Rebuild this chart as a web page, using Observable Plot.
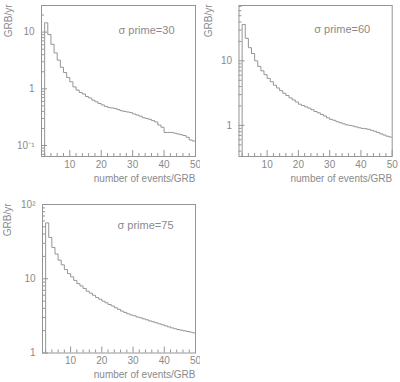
<!DOCTYPE html>
<html><head><meta charset="utf-8">
<script src="https://cdn.jsdelivr.net/npm/d3@7"></script>
<script src="https://cdn.jsdelivr.net/npm/@observablehq/plot@0.6"></script>
<style>
body{margin:0;background:#fff;}
#wrap{position:relative;width:400px;height:382px;overflow:hidden;background:#fff;}
.panel{position:absolute;}
</style></head><body><div id="wrap"></div>
<script>
// bin lower edges (bins of width 1); bin [1,2) is empty
const binStarts = [2,3,4,5,6,7,8,9,10,11,12,13,14,15,16,17,18,19,20,21,22,23,24,25,26,27,28,29,30,31,32,33,34,35,36,37,38,39,40,41,42,43,44,45,46,47,48,49];
const binEnd = 50;
const rate30 = [14.6,9.1,6.1,4.3,3.2,2.4,1.94,1.58,1.33,1.08,0.95,0.86,0.81,0.73,0.69,0.63,0.59,0.55,0.52,0.49,0.47,0.46,0.45,0.43,0.41,0.40,0.39,0.38,0.36,0.345,0.33,0.31,0.30,0.29,0.275,0.26,0.23,0.21,0.17,0.17,0.17,0.165,0.16,0.155,0.15,0.14,0.125,0.12];
const rate60 = [36.6,22.3,16,13,10,8.2,7.0,6.1,5.35,4.75,4.2,3.8,3.45,3.14,2.9,2.67,2.48,2.31,2.13,2.03,1.94,1.85,1.75,1.64,1.57,1.48,1.40,1.31,1.24,1.20,1.14,1.10,1.06,1.02,1.0,0.98,0.95,0.92,0.90,0.89,0.87,0.84,0.81,0.78,0.74,0.71,0.68,0.66];
const rate75 = [56.5,36,26.4,21.5,17.8,15.4,13.3,11.7,10.6,9.5,8.6,8.0,7.4,6.8,6.4,6.0,5.6,5.3,5.0,4.75,4.5,4.3,4.07,3.87,3.67,3.52,3.37,3.25,3.17,3.05,2.98,2.88,2.8,2.7,2.63,2.55,2.47,2.4,2.32,2.25,2.18,2.12,2.07,2.03,1.99,1.95,1.91,1.87];
const panelTitles = ["σ prime=30", "σ prime=60", "σ prime=75"];
const xTitle = "number of events/GRB";
const yTitle = "GRB/yr";
const xTicks = [10,20,30,40,50];
const xMinorTicks = [2,4,6,8,12,14,16,18,22,24,26,28,32,34,36,38,42,44,46,48];
const yTicks30 = [0.1,1,10], yLabels30 = ["10\u207B\u00B9","1","10"];
const yTicks60 = [1,10], yLabels60 = ["1","10"];
const yTicks75 = [1,10,100], yLabels75 = ["1","10","10\u00B2"];
const yMinorMultipliers = [2,3,4,5,6,7,8,9];
const yDecades = [0.01,0.1,1,10];

const LINE = "#959595";
const TEXT = "#8a8a8a";
const FONT = "'Liberation Sans', Helvetica, Arial, sans-serif";

const panels = [
  {values: rate30, title: panelTitles[0], ticks: yTicks30, labels: yLabels30, yDomain: [0.064, 29.5],
   left: 0, top: 0, width: 200, height: 190, mL: 41, mR: 5, mT: 5, mB: 34, yTitleDx: -33, titleDx: -21, titleDy: 25},
  {values: rate60, title: panelTitles[1], ticks: yTicks60, labels: yLabels60, yDomain: [0.33, 72],
   left: 200, top: 0, width: 200, height: 190, mL: 38.5, mR: 8.3, mT: 5, mB: 34, yTitleDx: -30.5, titleDx: -22, titleDy: 24},
  {values: rate75, title: panelTitles[2], ticks: yTicks75, labels: yLabels75, yDomain: [1, 100],
   left: 0, top: 190, width: 200, height: 192, mL: 42, mR: 5, mT: 14, mB: 29.5, yTitleDx: -34.5, titleDx: -22, titleDy: 21}
];

const wrap = document.getElementById("wrap");

for (const p of panels) {
  const innerW = p.width - p.mL - p.mR;
  const innerH = p.height - p.mT - p.mB;
  const [y0, y1] = p.yDomain;
  const minor = yDecades.flatMap(d => yMinorMultipliers.map(m => d * m)).filter(v => v > y0 && v < y1);
  const steps = [{x: binStarts[0], y: y0}]
    .concat(binStarts.map((b, i) => ({x: b, y: p.values[i]})))
    .concat([{x: binEnd, y: p.values[p.values.length - 1]}]);

  const chart = Plot.plot({
    width: p.width,
    height: p.height,
    marginLeft: p.mL, marginRight: p.mR, marginTop: p.mT, marginBottom: p.mB,
    style: {fontFamily: FONT, fontSize: "10px", color: TEXT, background: "transparent"},
    x: {type: "linear", domain: [1, 50], ticks: xTicks, tickSize: 0, tickPadding: 4, label: null},
    y: {type: "log", domain: p.yDomain, ticks: p.ticks, tickSize: 0, tickPadding: 7, label: null,
        tickFormat: d => p.labels[p.ticks.indexOf(d)] ?? ""},
    marks: [
      Plot.frame({stroke: LINE}),
      Plot.tickX(xMinorTicks, {x: d => d, stroke: LINE, insetTop: innerH - 3}),
      Plot.tickX(xTicks, {x: d => d, stroke: LINE, insetTop: innerH - 6}),
      Plot.tickY(minor, {y: d => d, stroke: LINE, insetRight: innerW - 3}),
      Plot.tickY(p.ticks, {y: d => d, stroke: LINE, insetRight: innerW - 6}),
      Plot.line(steps, {x: "x", y: "y", curve: "step-after", stroke: LINE, strokeWidth: 1, clip: true}),
      Plot.text([p.title], {text: d => d, frameAnchor: "top-right", textAnchor: "end", lineAnchor: "middle",
        dx: p.titleDx, dy: p.titleDy, fontSize: 11, fill: TEXT}),
      Plot.text([xTitle], {text: d => d, frameAnchor: "bottom-right", textAnchor: "end", lineAnchor: "middle",
        dy: 22, fontSize: 10, fill: TEXT}),
      Plot.text([yTitle], {text: d => d, frameAnchor: "top-left", textAnchor: "end", lineAnchor: "middle",
        rotate: -90, dx: p.yTitleDx, dy: -1, fontSize: 10, fill: TEXT})
    ]
  });
  const div = document.createElement("div");
  div.className = "panel";
  div.style.left = p.left + "px";
  div.style.top = p.top + "px";
  div.appendChild(chart);
  wrap.appendChild(div);
}
</script>
</body></html>
